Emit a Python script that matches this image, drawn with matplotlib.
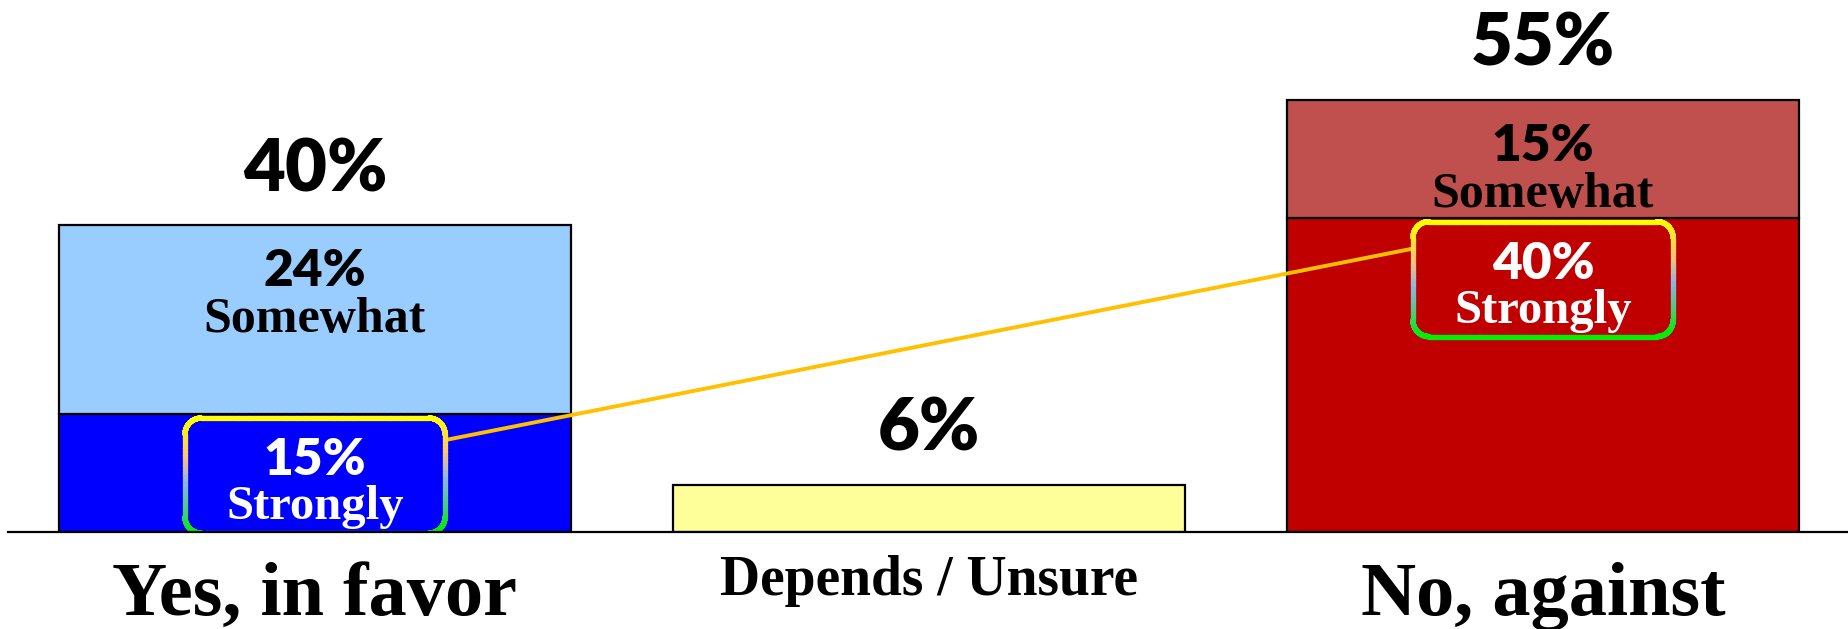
import numpy as np
import matplotlib
matplotlib.use("Agg")
import matplotlib.pyplot as plt
from matplotlib.collections import LineCollection
from matplotlib.patches import Polygon
from matplotlib.colors import LinearSegmentedColormap

# Survey results (percent)
categories = ["Yes, in favor", "Depends / Unsure", "No, against"]
strongly = [15, 0, 40]
somewhat = [24, 0, 15]
unsure = [0, 6, 0]
totals = [40, 6, 55]          # published (rounded) totals

lower_colors = ["#0000FF", "#FFFF99", "#C00000"]
upper_colors = ["#99CCFF", "#FFFFFF", "#C0504D"]
category_sizes = [55, 40, 55]
category_offsets = [-59.8, -45.4, -59.8]   # points below the baseline

SANS = "Lato"
SANS_WEIGHT = "heavy"
SERIF = "Liberation Serif"

W, H, DPI = 1849, 629, 100
fig = plt.figure(figsize=(W / DPI, H / DPI), dpi=DPI)
ax = fig.add_axes([8 / W, 97 / H, 1842 / W, 471.6 / H])
ax.set_xlim(-0.5, 2.5)
ax.set_ylim(0, 60)
for side in ("top", "left", "right"):
    ax.spines[side].set_visible(False)
ax.spines["bottom"].set_linewidth(1.6)
ax.spines["bottom"].set_zorder(6)
ax.set_xticks([])
ax.set_yticks([])

# pixel <-> data scale factors
x0p, y0p = ax.transData.transform((0, 0))
x1p, y1p = ax.transData.transform((1, 1))
PX = x1p - x0p      # pixels per category unit
PY = y1p - y0p      # pixels per percentage point

x = np.arange(len(categories))
bar_w = 0.834
lower = [s + u for s, u in zip(strongly, unsure)]

ax.bar(x, lower, bar_w, color=lower_colors, edgecolor="black", linewidth=1.6, zorder=2)
has_upper = [i for i, v in enumerate(somewhat) if v > 0]
ax.bar(x[has_upper], [somewhat[i] for i in has_upper], bar_w,
       bottom=[lower[i] for i in has_upper],
       color=[upper_colors[i] for i in has_upper],
       edgecolor="black", linewidth=1.6, zorder=2)

# totals above each bar
for i in range(len(categories)):
    top = lower[i] + somewhat[i]
    ax.annotate(f"{totals[i]}%", (x[i], top), xytext=(0, 24.8),
                textcoords="offset points", ha="center", va="baseline",
                fontsize=52, fontweight=SANS_WEIGHT, family=SANS, color="black")

# "Somewhat" segment labels
for i in has_upper:
    top = lower[i] + somewhat[i]
    ax.annotate(f"{somewhat[i]}%", (x[i], top), xytext=(0, -61 * 0.72),
                textcoords="offset points", ha="center", va="baseline",
                fontsize=37, fontweight=SANS_WEIGHT, family=SANS, color="black", zorder=7)
    ax.annotate("Somewhat", (x[i], top), xytext=(0, -107 * 0.72),
                textcoords="offset points", ha="center", va="baseline",
                fontsize=36, fontweight="bold", family=SERIF, color="black", zorder=7)

# rounded callout boxes with a gradient outline
grad = LinearSegmentedColormap.from_list(
    "outline", [(0.0, "#FFFF00"), (0.3, "#FFC870"), (0.55, "#8EB4E3"),
                (0.8, "#40D070"), (1.0, "#00F000")])


def rounded_outline(cx, top, w, h, r_px):
    rx, ry = r_px / PX, r_px / PY
    xl, xr = cx - w / 2, cx + w / 2
    yb, yt = top - h, top
    pts = []
    corners = [((xr - rx, yt - ry), 90, 0), ((xr - rx, yb + ry), 0, -90),
               ((xl + rx, yb + ry), -90, -180), ((xl + rx, yt - ry), 180, 90)]
    for (ccx, ccy), a0, a1 in corners:
        for a in np.radians(np.linspace(a0, a1, 12)):
            pts.append((ccx + rx * np.cos(a), ccy + ry * np.sin(a)))
    pts.append(pts[0])
    pts = np.array(pts)
    dense = [pts[0]]
    for p, q in zip(pts[:-1], pts[1:]):
        for t in np.linspace(0, 1, 25)[1:]:
            dense.append(p + (q - p) * t)
    return np.array(dense), yb, yt


box_w = 260 / PX
box_h = 115 / PY
box_tops = {}
for i in (0, 2):
    top = strongly[i] - 4 / PY
    box_tops[i] = top
    pts, yb, yt = rounded_outline(x[i], top, box_w, box_h, 16)
    ax.add_patch(Polygon(pts, closed=True, facecolor=lower_colors[i],
                         edgecolor="none", zorder=4))
    segs = np.stack([pts[:-1], pts[1:]], axis=1)
    mid_y = segs[:, :, 1].mean(axis=1)
    cols = grad((yt - mid_y) / (yt - yb))
    ax.add_collection(LineCollection(segs, colors=cols, linewidths=3.8,
                                     capstyle="round", joinstyle="round", zorder=5))
    ax.annotate(f"{strongly[i]}%", (x[i], top), xytext=(0, -57 * 0.72),
                textcoords="offset points", ha="center", va="baseline",
                fontsize=37, fontweight=SANS_WEIGHT, family=SANS, color="white", zorder=7)
    ax.annotate("Strongly", (x[i], top), xytext=(0, -101 * 0.72),
                textcoords="offset points", ha="center", va="baseline",
                fontsize=35, fontweight="bold", family=SERIF, color="white", zorder=7)

# connector between the two "Strongly" callouts
ax.plot([x[0] + box_w / 2, x[2] - box_w / 2],
        [box_tops[0] - 22 / PY, box_tops[2] - 27 / PY],
        color="#FFC000", linewidth=2.8, zorder=3.5, solid_capstyle="butt")

# category labels under the baseline
for i, name in enumerate(categories):
    ax.annotate(name, (x[i], 0), xytext=(0, category_offsets[i]),
                textcoords="offset points", ha="center", va="baseline",
                fontsize=category_sizes[i], fontweight="bold", family=SERIF,
                color="black", annotation_clip=False)

fig.savefig("out.png", dpi=DPI, facecolor="white")
